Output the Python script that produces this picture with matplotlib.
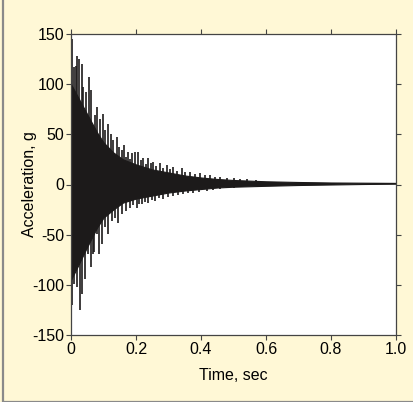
import numpy as np
import matplotlib
matplotlib.use('Agg')
import matplotlib.pyplot as plt
from matplotlib.patches import Rectangle

# peaks (time in sec, acceleration in g)
up_t = [0.002, 0.009, 0.014, 0.019, 0.025, 0.033, 0.038, 0.046, 0.056, 0.062,
        0.074, 0.081, 0.089, 0.097, 0.105, 0.113, 0.122, 0.128, 0.141, 0.149,
        0.157, 0.163, 0.176, 0.187, 0.197, 0.207, 0.223, 0.238, 0.253, 0.274,
        0.294, 0.315, 0.340, 0.366, 0.397, 0.428, 0.458, 0.500, 0.540,
        0.170, 0.182, 0.215, 0.231, 0.246, 0.262, 0.284, 0.305, 0.327, 0.352,
        0.380, 0.412, 0.442, 0.480, 0.520, 0.570]
up_v = [145, 117, 118, 128, 125, 120, 97, 92, 107, 94,
        69, 77, 65, 70, 54, 60, 50, 44, 47, 37,
        34, 39, 32, 31, 32, 32, 26, 26, 22, 21,
        19, 17, 16, 12, 11, 9, 7, 6, 5,
        27, 25, 24, 20, 21, 18, 16, 15, 13, 12,
        10, 9, 7, 6, 5, 4]

lo_t = [0.002, 0.009, 0.017, 0.028, 0.033, 0.043, 0.053, 0.061, 0.067, 0.072,
        0.079, 0.086, 0.094, 0.105, 0.115, 0.125, 0.135, 0.146, 0.156, 0.169,
        0.182, 0.202, 0.217, 0.238, 0.258, 0.284, 0.315, 0.346, 0.376, 0.417,
        0.458, 0.500,
        0.192, 0.210, 0.228, 0.248, 0.270, 0.298, 0.330, 0.360, 0.395, 0.438]
lo_v = [-120, -99, -102, -125, -109, -94, -69, -82, -69, -67,
        -49, -69, -59, -42, -49, -36, -33, -38, -29, -26,
        -23, -23, -19, -18, -16, -14, -11, -9, -8, -6,
        -4, -3,
        -20, -19, -17, -15, -13, -12, -10, -8, -7, -5]

# solid body of the dense oscillation
body_t = [0.0, 0.02, 0.05, 0.08, 0.10, 0.13, 0.16, 0.20, 0.25, 0.30,
          0.35, 0.40, 0.45, 0.50, 0.60, 0.70, 0.80, 0.90, 1.0]
body_hi = [100, 88, 70, 52, 42, 32, 25, 20, 15, 12,
           9, 7, 5.5, 4.5, 3.2, 2.5, 2, 1.8, 1.6]
body_lo = [-95, -82, -62, -43, -33, -25, -18, -14, -11, -8,
           -6, -4.5, -3, -2.2, -1.3, -0.5, 0, 0.5, 0.8]

plt.rcParams['font.family'] = ['Liberation Sans', 'DejaVu Sans']
plt.rcParams['axes.unicode_minus'] = False

bg = '#fff8d6'
ink = '#1c1a1a'
fig = plt.figure(figsize=(4.13, 4.05), dpi=100, facecolor=bg)
fig.patches.append(Rectangle((2.5 / 413, 3.5 / 405), 1.0, 1.0, transform=fig.transFigure,
                             facecolor='none', edgecolor='#8a8a8a', linewidth=1.6))
fig.patches.append(Rectangle((0, 0), 1.0, 3 / 405, transform=fig.transFigure,
                             facecolor='white', edgecolor='none'))

ax = fig.add_axes([71 / 413, 70 / 405, 325 / 413, 301 / 405])
ax.set_facecolor('white')

ax.fill_between(body_t, body_lo, body_hi, color=ink, linewidth=0.8, edgecolor=ink)
ax.vlines(up_t, 0, up_v, color=ink, linewidth=1.2)
ax.vlines(lo_t, lo_v, 0, color=ink, linewidth=1.2)

ax.set_xlim(0, 1.0)
ax.set_ylim(-150, 150)
ax.set_xticks([0, 0.2, 0.4, 0.6, 0.8, 1.0])
ax.set_xticklabels(['0', '0.2', '0.4', '0.6', '0.8', '1.0'])
ax.set_yticks([-150, -100, -50, 0, 50, 100, 150])
ax.tick_params(direction='out', length=3.5, width=0.8, color='#444444',
               labelsize=11.5, pad=1.5, top=True, right=True)
for s in ax.spines.values():
    s.set_color('#444444')
    s.set_linewidth(0.9)

ax.set_xlabel('Time, sec', fontsize=11.5, labelpad=8)
ax.set_ylabel('Acceleration, g', fontsize=11.5)
ax.yaxis.set_label_coords(-0.105, 0.5)

fig.savefig('out.png', dpi=100, facecolor=bg)
